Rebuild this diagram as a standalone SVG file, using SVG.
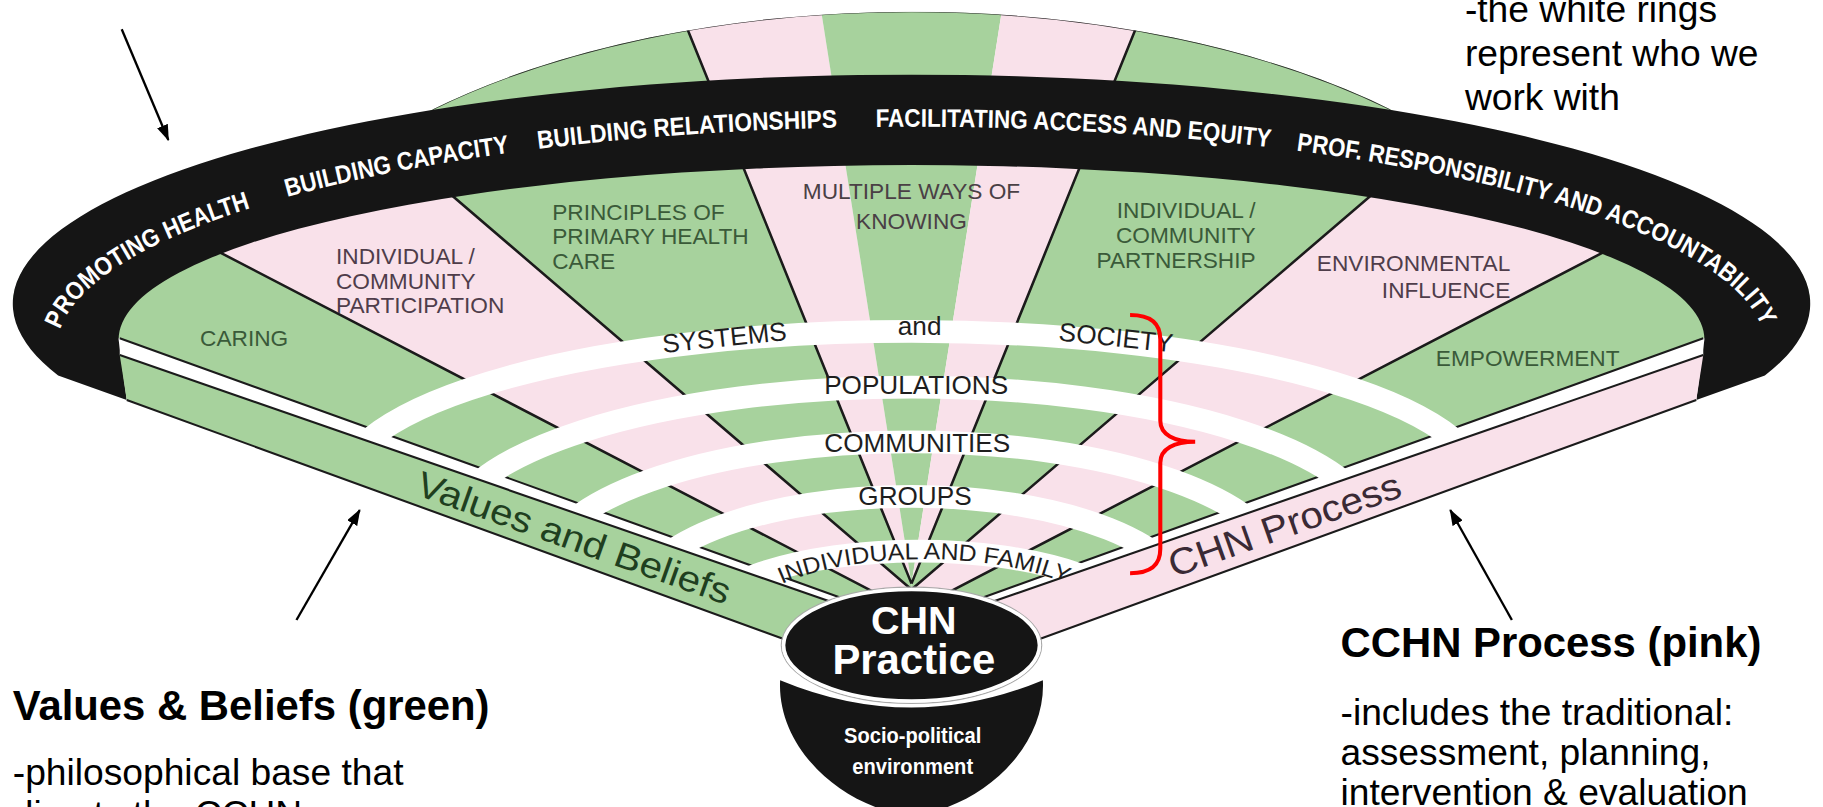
<svg xmlns="http://www.w3.org/2000/svg" width="1823" height="807" viewBox="0 0 1823 807">
<defs>
<style>
.g{fill:#a7d29d}.p{fill:#f9e1ea}
.sl{stroke:#1b1b1b;stroke-width:2.2;fill:none}
.ln{stroke:#1b1b1b;stroke-width:1.8;fill:none}
.ring{fill:none;stroke:#fff;stroke-width:19.5}
.f{font-family:"Liberation Sans",Arial,Helvetica,sans-serif}
.bt{font-weight:bold;font-size:22px;fill:#fff}
.lg{font-size:19.5px;fill:#3a5a39}
.lp{font-size:19.5px;fill:#4f3d4a}
.rt{font-size:22.5px;fill:#1e1e1e}
.ann{font-size:32px;fill:#000}
.head{font-size:36px;font-weight:bold;fill:#000}
.arr{stroke:#000;stroke-width:2;fill:none}
</style>
<clipPath id="colored">
<ellipse cx="784" cy="300" rx="585" ry="290"/>
<ellipse cx="784" cy="262" rx="773" ry="197"/>
<polygon points="150,300 1418,300 784,620"/>
</clipPath>
<clipPath id="aboveA"><polygon points="-100,218 784,536 1668,218 1668,-100 -100,-100"/></clipPath>
<clipPath id="aboveB"><polygon points="-100,235 784,541.7 1668,235 1668,-100 -100,-100"/></clipPath>
<path id="t1" d="M51.8 283.4A735 191 0 0 1 292.2 158.1"/>
<path id="t2" d="M247.2 169.5A735 191 0 0 1 556.9 118.3"/>
<path id="t3" d="M463 128.2A735 191 0 0 1 835.3 109.5"/>
<path id="t4" d="M753.2 109.2A735 191 0 0 1 1184.3 139.8"/>
<path id="t5" d="M1115 129.5A735 191 0 0 1 1511.8 326.6"/>
<path id="tif" d="M670 503.5A160 60 0 0 1 920 503.5"/>
<marker id="ah" viewBox="0 0 14 10" refX="13" refY="5" markerWidth="14" markerHeight="10" markerUnits="userSpaceOnUse" orient="auto"><path d="M0 0L14 5L0 10Z" fill="#000"/></marker>
</defs>
<rect width="1823" height="807" fill="#fff"/>
<g transform="scale(1.16263)">
<g id="sectors" clip-path="url(#aboveA)">
<g clip-path="url(#colored)">
<polygon class="g" points="784,526 -306,-40 -420,-40 -420,150 784,545"/>
<polygon class="p" points="784,526 -306,-40 146,-40 784,507"/>
<polygon class="g" points="784,507 146,-40 565,-40 784,502"/>
<polygon class="p" points="784,502 565,-40 698.5,-40"/>
<polygon class="g" points="784,502 698.5,-40 869.5,-40"/>
<polygon class="p" points="784,502 869.5,-40 1003,-40"/>
<polygon class="g" points="784,502 1003,-40 1422,-40 784,507"/>
<polygon class="p" points="784,507 1422,-40 1874,-40 784,526"/>
<polygon class="g" points="784,526 1874,-40 1988,-40 1988,150 784,545"/>
<path class="sl" d="M784 526L-306 -40M784 507L146 -40M784 502L565 -40M784 502L1003 -40M784 507L1422 -40M784 526L1874 -40"/>
<path d="M372 94A585 290 0 0 1 1196 94" fill="none" stroke="#2a2a2a" stroke-width="1.5"/>
</g>
</g>
<g id="band">
<path d="M50 323L109 344L102 292A682 150 0 0 1 1466 292L1459 344L1518 323A773 197 0 1 0 50 323Z" fill="#151515"/>
<text class="f bt"><textPath href="#t1" textLength="200" lengthAdjust="spacingAndGlyphs">PROMOTING HEALTH</textPath></text>
<text class="f bt"><textPath href="#t2" textLength="195" lengthAdjust="spacingAndGlyphs">BUILDING CAPACITY</textPath></text>
<text class="f bt"><textPath href="#t3" textLength="258" lengthAdjust="spacingAndGlyphs">BUILDING RELATIONSHIPS</textPath></text>
<text class="f bt"><textPath href="#t4" textLength="340" lengthAdjust="spacingAndGlyphs">FACILITATING ACCESS AND EQUITY</textPath></text>
<text class="f bt"><textPath href="#t5" textLength="440" lengthAdjust="spacingAndGlyphs">PROF. RESPONSIBILITY AND ACCOUNTABILITY</textPath></text>
</g>
<g id="sector-labels">
<text class="f lg" x="210" y="297.5" text-anchor="middle">CARING</text>
<text class="f lp"><tspan x="289" y="227.5">INDIVIDUAL /</tspan><tspan x="289" y="248.5">COMMUNITY</tspan><tspan x="289" y="269.5">PARTICIPATION</tspan></text>
<text class="f lg"><tspan x="475" y="189">PRINCIPLES OF</tspan><tspan x="475" y="210">PRIMARY HEALTH</tspan><tspan x="475" y="231">CARE</tspan></text>
<text class="f" font-size="19.5" fill="#4a4045" text-anchor="middle"><tspan x="784" y="171">MULTIPLE WAYS OF</tspan><tspan x="784" y="197">KNOWING</tspan></text>
<text class="f lg" font-size="19" text-anchor="end"><tspan x="1080" y="187.5">INDIVIDUAL /</tspan><tspan x="1080" y="209">COMMUNITY</tspan><tspan x="1080" y="230.5">PARTNERSHIP</tspan></text>
<text class="f lp" text-anchor="end"><tspan x="1299" y="233">ENVIRONMENTAL</tspan><tspan x="1299" y="256">INFLUENCE</tspan></text>
<text class="f lg" x="1314" y="315" text-anchor="middle">EMPOWERMENT</text>
</g>
<g id="stripes">
<polygon fill="#fff" points="103,291 784,536 784,541.7 103,305.4"/>
<polygon fill="#fff" points="1465,291 784,536 784,541.7 1465,305.4"/>
<path class="ln" d="M103 291L784 536M1465 291L784 536"/>
</g>
<g id="rings" clip-path="url(#aboveB)">
<path class="ring" d="M293 420A491 135 0 0 1 1275 420"/>
<path class="ring" d="M383 463A401 130 0 0 1 1185 463"/>
<path class="ring" d="M464 495A320 115 0 0 1 1104 495"/>
<path class="ring" d="M544.5 522A239.5 95 0 0 1 1023.5 522"/>
<path class="ring" d="M593 544A197 70 0 0 1 987 544"/>
</g>
<g id="ring-labels">
<text class="f rt" x="623" y="298" text-anchor="middle" transform="rotate(-6 623 290)">SYSTEMS</text>
<text class="f rt" x="791" y="288" text-anchor="middle">and</text>
<text class="f rt" x="960" y="298" text-anchor="middle" transform="rotate(6 960 290)">SOCIETY</text>
<text class="f rt" x="788" y="339" text-anchor="middle">POPULATIONS</text>
<text class="f rt" x="789" y="389" text-anchor="middle">COMMUNITIES</text>
<text class="f rt" x="787" y="434.5" text-anchor="middle">GROUPS</text>
<text class="f" font-size="20" fill="#1e1e1e"><textPath href="#tif" startOffset="50%" text-anchor="middle" textLength="250" lengthAdjust="spacingAndGlyphs">INDIVIDUAL AND FAMILY</textPath></text>
</g>
<g id="edge-strips">
<polygon class="g" points="103,305.4 784,541.7 784,589.7 109,344"/>
<polygon class="p" points="1465,305.4 784,541.7 784,589.7 1459,344"/>
<path class="ln" d="M103 305.4L784 541.7M109 344L784 589.7M1465 305.4L784 541.7M1459 344L784 589.7"/>
<text class="f" font-size="31" fill="#1f3f1f" x="356.4" y="425.1" transform="rotate(19.57 356.4 425.1)" textLength="284" lengthAdjust="spacingAndGlyphs">Values and Beliefs</text>
<text class="f" font-size="32" fill="#3a2a35" x="1009.6" y="496.9" transform="rotate(-19.57 1009.6 496.9)" textLength="210" lengthAdjust="spacingAndGlyphs">CHN Process</text>
</g>
<g id="bowl">
<path d="M671 585C668 642 722 694 784 702C846 694 900 642 897 585Q784 632 671 585Z" fill="#151515"/>
<ellipse cx="784" cy="555" rx="112" ry="50" fill="none" stroke="#aaa" stroke-width="1"/>
<ellipse cx="784" cy="555" rx="110" ry="48" fill="#151515" stroke="#fff" stroke-width="3"/>
<text class="f" font-weight="bold" font-size="34" fill="#fff" x="786" y="545" text-anchor="middle">CHN</text>
<text class="f" font-weight="bold" font-size="36" fill="#fff" x="786" y="580" text-anchor="middle">Practice</text>
<text class="f" font-weight="bold" font-size="19" fill="#fff" x="785" y="639" text-anchor="middle" textLength="118" lengthAdjust="spacingAndGlyphs">Socio-political</text>
<text class="f" font-weight="bold" font-size="19" fill="#fff" x="785" y="666" text-anchor="middle" textLength="104" lengthAdjust="spacingAndGlyphs">environment</text>
</g>
<g id="connectors">
<line class="arr" x1="104.7" y1="25.2" x2="144.8" y2="120.4" marker-end="url(#ah)"/>
<line class="arr" x1="255" y1="533.3" x2="309.4" y2="438.7" marker-end="url(#ah)"/>
<line class="arr" x1="1300.4" y1="533.3" x2="1247.4" y2="438.7" marker-end="url(#ah)"/>
<path d="M972 271C990 271 998 278 998 292L998 362C998 374 1010 380 1028 380C1010 380 998 386 998 398L998 472C998 486 990 493 972 493" fill="none" stroke="#f00" stroke-width="3.5"/>
</g>
<g id="annotations">
<text class="f ann"><tspan x="1260" y="18.6">-the white rings</tspan><tspan x="1260" y="56.5">represent who we</tspan><tspan x="1260" y="94.6">work with</tspan></text>
<text class="f head" x="11" y="619">Values &amp; Beliefs (green)</text>
<text class="f ann"><tspan x="11" y="675">-philosophical base that</tspan><tspan x="11" y="711">directs the CCHN</tspan></text>
<text class="f head" x="1153" y="565">CCHN Process (pink)</text>
<text class="f ann"><tspan x="1153" y="623.6">-includes the traditional:</tspan><tspan x="1153" y="658">assessment, planning,</tspan><tspan x="1153" y="692">intervention &amp; evaluation</tspan></text>
</g>
</g>
</svg>
